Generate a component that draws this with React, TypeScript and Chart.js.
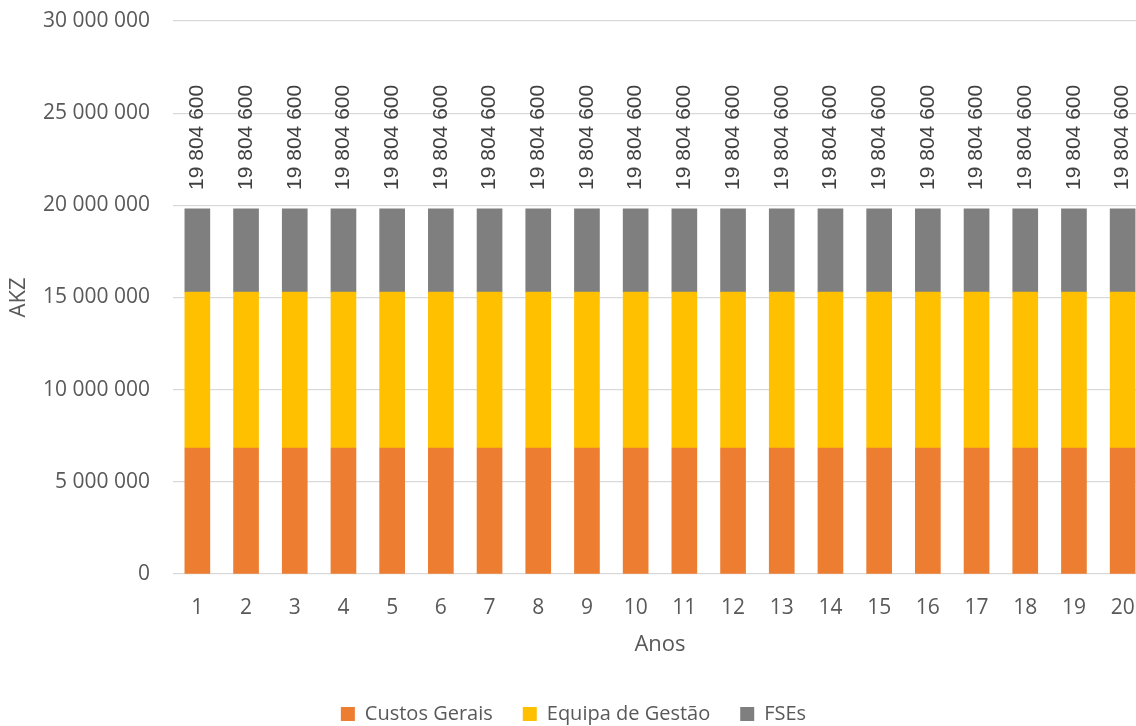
import React, { useEffect, useRef } from "react";
import { Chart, registerables } from "chart.js";

Chart.register(...registerables);

const categories = ["1","2","3","4","5","6","7","8","9","10","11","12","13","14","15","16","17","18","19","20"];
const custosGerais = [6830000,6830000,6830000,6830000,6830000,6830000,6830000,6830000,6830000,6830000,6830000,6830000,6830000,6830000,6830000,6830000,6830000,6830000,6830000,6830000];
const equipaGestao = [8460000,8460000,8460000,8460000,8460000,8460000,8460000,8460000,8460000,8460000,8460000,8460000,8460000,8460000,8460000,8460000,8460000,8460000,8460000,8460000];
const fses = [4514600,4514600,4514600,4514600,4514600,4514600,4514600,4514600,4514600,4514600,4514600,4514600,4514600,4514600,4514600,4514600,4514600,4514600,4514600,4514600];
const seriesNames = ["Custos Gerais", "Equipa de Gestão", "FSEs"];
const seriesColors = ["#ED7D31", "#FFC000", "#7F7F7F"];

const fmt = (v: number) => String(Math.round(v)).replace(/\B(?=(\d{3})+(?!\d))/g, " ");

const totalLabels = {
  id: "totalLabels",
  afterDatasetsDraw(chart: any) {
    const ctx = chart.ctx;
    const last = chart.data.datasets.length - 1;
    const meta = chart.getDatasetMeta(last);
    ctx.save();
    ctx.font = "21px 'Liberation Sans', Arial, sans-serif";
    ctx.fillStyle = "#404040";
    ctx.textAlign = "left";
    ctx.textBaseline = "middle";
    meta.data.forEach((bar: any, i: number) => {
      let total = 0;
      chart.data.datasets.forEach((ds: any) => (total += ds.data[i]));
      ctx.save();
      ctx.translate(bar.x, bar.y - 19);
      ctx.rotate(-Math.PI / 2);
      ctx.fillText(fmt(total), 0, 0);
      ctx.restore();
    });
    ctx.restore();
  },
};

export default function App() {
  const ref = useRef<HTMLCanvasElement>(null);
  useEffect(() => {
    if (!ref.current) return;
    const data = [custosGerais, equipaGestao, fses];
    const chart = new Chart(ref.current, {
      type: "bar",
      data: {
        labels: categories,
        datasets: data.map((d, i) => ({
          label: seriesNames[i],
          data: d,
          backgroundColor: seriesColors[i],
          borderWidth: 0,
          barThickness: 25,
        })),
      },
      options: {
        animation: false,
        responsive: false,
        maintainAspectRatio: false,
        layout: { padding: { top: 21, right: 8, left: 0, bottom: -8 } },
        scales: {
          x: {
            stacked: true,
            grid: { display: false },
            border: { display: false },
            ticks: { color: "#595959", font: { family: "'Open Sans'", size: 21 }, padding: 13 },
            title: { display: true, text: "Anos", color: "#595959", font: { family: "'Open Sans'", size: 22 }, padding: { top: 0, bottom: 16 } },
            afterFit: (s: any) => { s.height = 100; },
          },
          y: {
            stacked: true,
            min: 0,
            max: 30000000,
            grid: { color: "#d9d9d9", lineWidth: 1.3, drawTicks: false },
            border: { display: false },
            ticks: {
              stepSize: 5000000,
              color: "#595959",
              padding: 23,
              font: { family: "'Open Sans'", size: 21 },
              callback: (v: any) => fmt(Number(v)),
            },
            title: { display: true, text: "AKZ", color: "#595959", font: { family: "'Open Sans'", size: 22 }, padding: { top: 6, bottom: 0 } },
            afterFit: (s: any) => { s.width = 173; s.paddingTop = 0; s.paddingBottom = 0; },
          },
        },
        plugins: {
          legend: {
            position: "bottom",
            labels: {
              color: "#595959",
              font: { family: "'Open Sans'", size: 20 },
              boxWidth: 14,
              boxHeight: 14,
              padding: 30,
            },
          },
          tooltip: { enabled: false },
        },
      },
      plugins: [totalLabels],
    });
    return () => chart.destroy();
  }, []);
  return (
    <div style={{ position: "fixed", left: 0, top: 0, width: 1136, height: 726, overflow: "hidden", background: "#fff" }}>
      <canvas ref={ref} width={1155} height={726} style={{ display: "block", width: 1155, height: 726 }} />
    </div>
  );
}
